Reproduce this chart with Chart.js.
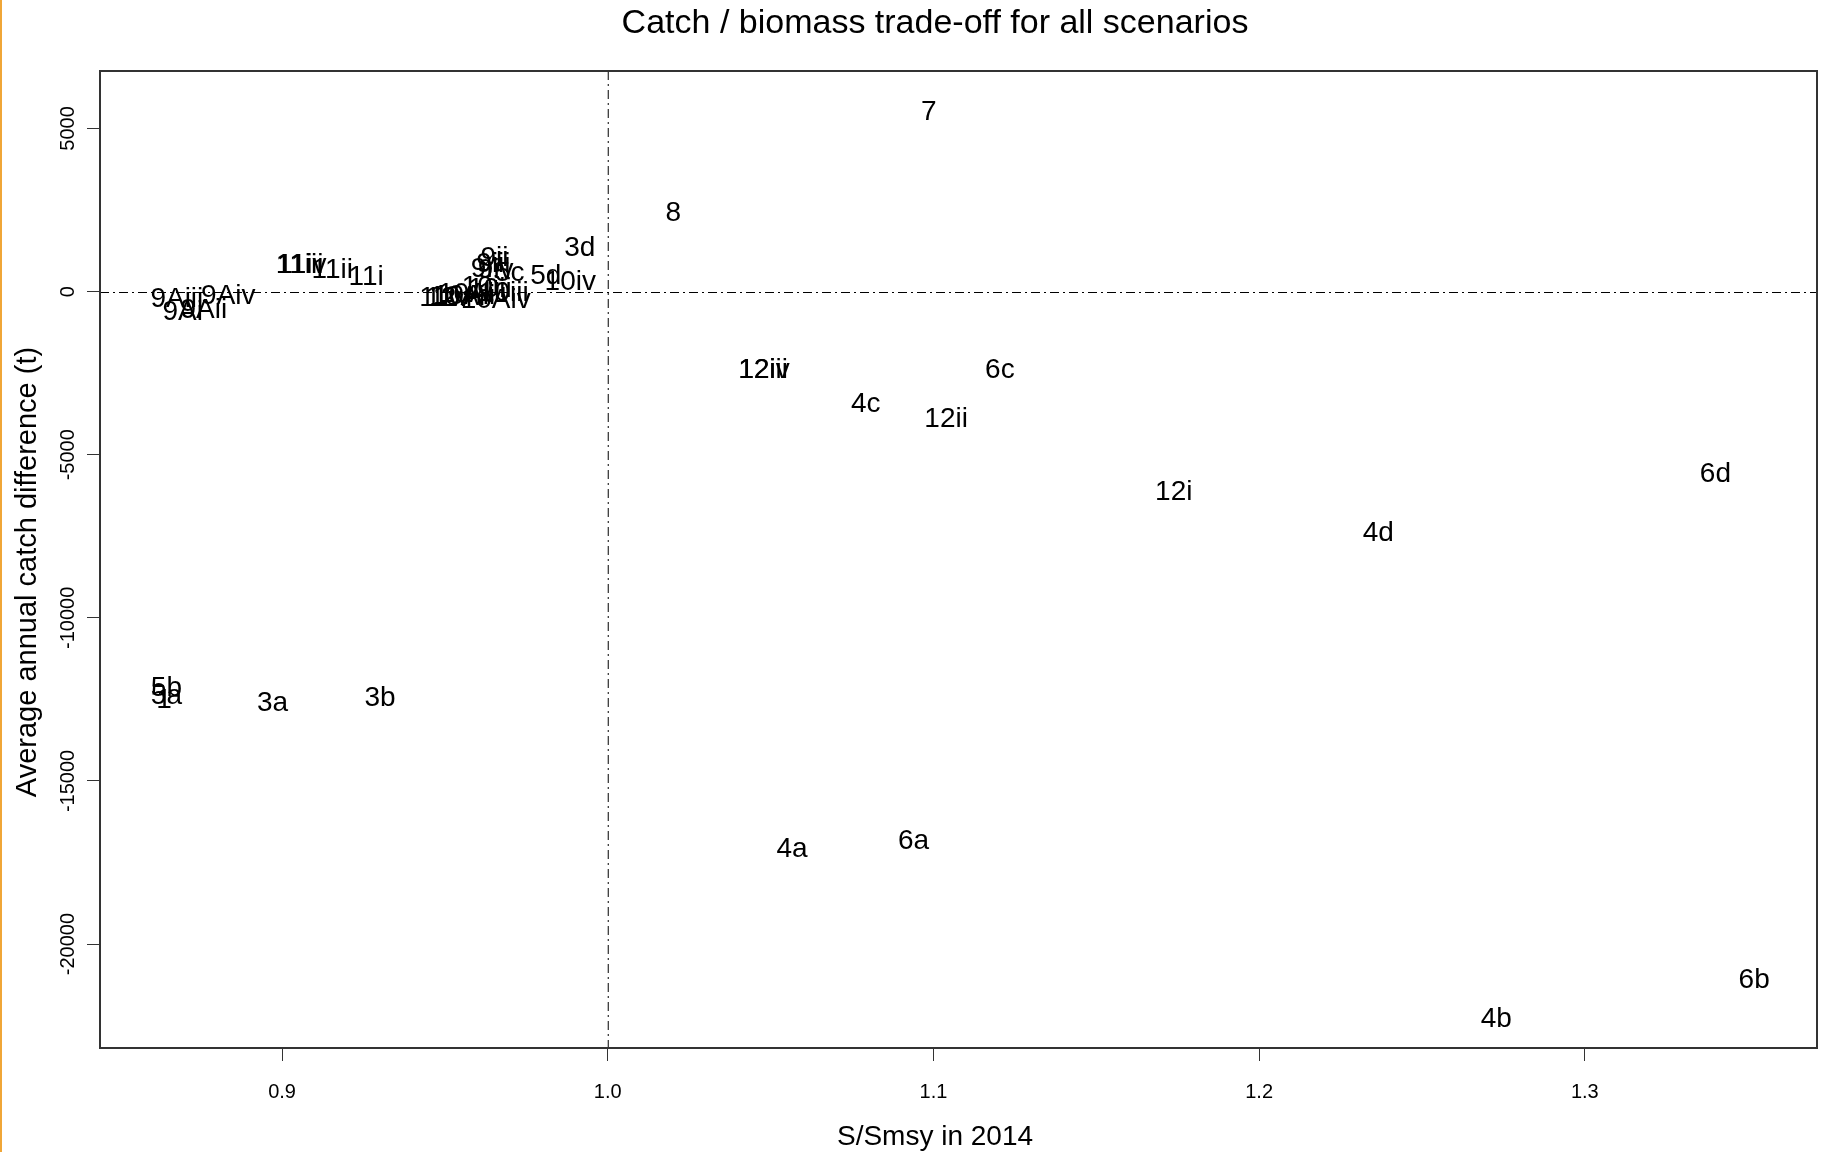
<!DOCTYPE html>
<html>
<head>
<meta charset="utf-8">
<title>Catch / biomass trade-off for all scenarios</title>
<script src="https://cdn.jsdelivr.net/npm/chart.js@4.4.1/dist/chart.umd.min.js"></script>
<style>
    html, body { margin: 0; padding: 0; background: #fff; }
    #wrap { position: relative; width: 1830px; height: 1152px; }
    #edge { position: absolute; left: 0; top: 0; width: 2px; height: 1152px; background: #f0a637; }
</style>
</head>
<body>
<div id="wrap">
    <canvas id="chart" width="1830" height="1152"></canvas>
    <div id="edge"></div>
</div>
<script>
// scenario names, S/Smsy in 2014, average annual catch difference (t)
const scenarioLabels = [
    '7', '8', '3d', '10iv', '5d', '6c', '12iii', '12iv', '4c', '12ii', '6d', '12i', '4d',
    '5b', '5a', '1', '3a', '3b', '4a', '6a', '6b', '4b',
    '9Aiii', '9Aiv', '9Ai', '9Aii', '11iii', '11iv', '11ii', '11i',
    '9ii', '9iii', '9i', '9iv', '5c',
    '11v', '12v', '10Ai', '10Aii', '10Aiii', '10Aiv', '10i', '10ii', '10iii',
]
const ssmsy2014 = [
    1.0986, 1.0201, 0.9914, 0.9885, 0.9810, 1.1204, 1.0477, 1.0480, 1.0792, 1.1039, 1.3401, 1.1738, 1.2366,
    0.8645, 0.8645, 0.8638, 0.8971, 0.9301, 1.0566, 1.0939, 1.3520, 1.2728,
    0.8677, 0.8835, 0.8695, 0.8760, 0.9054, 0.9061, 0.9154, 0.9258,
    0.9652, 0.9649, 0.9613, 0.9656, 0.9699,
    0.9487, 0.9509, 0.9538, 0.9559, 0.9584, 0.9656, 0.9609, 0.9638, 0.9681,
]
const catchDiff = [
    5546, 2469, 1395, 358, 537, -2361, -2361, -2361, -3399, -3864, -5546, -6083, -7335,
    -12094, -12344, -12451, -12559, -12416, -17031, -16781, -21039, -22255,
    -179, -72, -572, -501, 859, 859, 716, 501,
    1073, 895, 751, 716, 608,
    -143, -143, -107, -72, -36, -215, 179, 143, 0,
]

const xTicks = [0.9, 1.0, 1.1, 1.2, 1.3]
const yTicks = [5000, 0, -5000, -10000, -15000, -20000]
const xRange = [0.8441, 1.3713]
const yRange = [-23185, 6762]
const refX = 1.0
const refY = 0

const FONT = '"Liberation Sans", Arial, sans-serif'

let points = scenarioLabels.map((label, i) => ({x: ssmsy2014[i], y: catchDiff[i]}))

const decorations = {
    id: 'decorations',
    beforeDatasetsDraw(chart) {
        let {ctx, chartArea: area, scales} = chart
        let px = scales.x.getPixelForValue(refX)
        let py = scales.y.getPixelForValue(refY)

        ctx.save()
        ctx.strokeStyle = '#000'
        ctx.lineWidth = 1
        ctx.setLineDash([9, 4, 2, 4])
        ctx.beginPath()
        ctx.moveTo(px + 0.5, area.top)
        ctx.lineTo(px + 0.5, area.bottom)
        ctx.moveTo(area.left, Math.round(py) + 0.5)
        ctx.lineTo(area.right, Math.round(py) + 0.5)
        ctx.stroke()
        ctx.restore()
    },
    afterDatasetsDraw(chart) {
        let {ctx, chartArea: area} = chart
        let meta = chart.getDatasetMeta(0)

        ctx.save()
        ctx.font = '28px ' + FONT
        ctx.fillStyle = '#000'
        ctx.textAlign = 'center'
        ctx.textBaseline = 'middle'
        // R centres the text on the point; canvas 'middle' sits a touch high
        meta.data.forEach((pt, i) => {
            ctx.fillText(scenarioLabels[i], pt.x, pt.y + 2)
        })

        // plot box
        ctx.strokeStyle = '#333'
        ctx.lineWidth = 2
        ctx.strokeRect(area.left, area.top, area.right - area.left, area.bottom - area.top)

        // titles
        ctx.font = '34px ' + FONT
        ctx.fillText('Catch / biomass trade-off for all scenarios', 935, 24)
        ctx.font = '28px ' + FONT
        ctx.fillText('S/Smsy in 2014', 935, 1137)
        ctx.font = '29px ' + FONT
        ctx.translate(28, 572)
        ctx.rotate(-Math.PI / 2)
        ctx.fillText('Average annual catch difference (t)', 0, 0)
        ctx.restore()
    },
}

new Chart(
    document.getElementById('chart'),
    {
        type: 'scatter',
        data: {
            datasets: [{
                data: points,
                pointRadius: 0,
                pointHoverRadius: 0,
                showLine: false,
            }],
        },
        options: {
            responsive: false,
            animation: false,
            devicePixelRatio: 1,
            events: [],
            layout: {
                padding: {top: 71, right: 13, bottom: 0, left: 0},
            },
            plugins: {
                legend: {display: false},
                tooltip: {enabled: false},
                title: {display: false},
            },
            scales: {
                x: {
                    type: 'linear',
                    min: xRange[0],
                    max: xRange[1],
                    afterBuildTicks(scale) {
                        scale.ticks = xTicks.map((v) => ({value: v}))
                    },
                    afterFit(scale) {
                        scale.height = 104
                    },
                    border: {display: false},
                    grid: {
                        display: true,
                        drawOnChartArea: false,
                        drawTicks: true,
                        tickLength: 13,
                        color: '#333',
                        lineWidth: 1,
                    },
                    ticks: {
                        color: '#000',
                        font: {family: FONT, size: 20},
                        padding: 19,
                        maxRotation: 0,
                        callback: (v) => Number(v).toFixed(1),
                    },
                },
                y: {
                    type: 'linear',
                    min: yRange[0],
                    max: yRange[1],
                    afterBuildTicks(scale) {
                        scale.ticks = yTicks.map((v) => ({value: v}))
                    },
                    afterFit(scale) {
                        scale.width = 100
                    },
                    border: {display: false},
                    grid: {
                        display: true,
                        drawOnChartArea: false,
                        drawTicks: true,
                        tickLength: 13,
                        color: '#333',
                        lineWidth: 1,
                    },
                    ticks: {
                        color: '#000',
                        font: {family: FONT, size: 20},
                        minRotation: 90,
                        maxRotation: 90,
                        crossAlign: 'center',
                        padding: -13,
                        callback: (v) => String(v),
                    },
                },
            },
        },
        plugins: [decorations],
    },
)
</script>
</body>
</html>
